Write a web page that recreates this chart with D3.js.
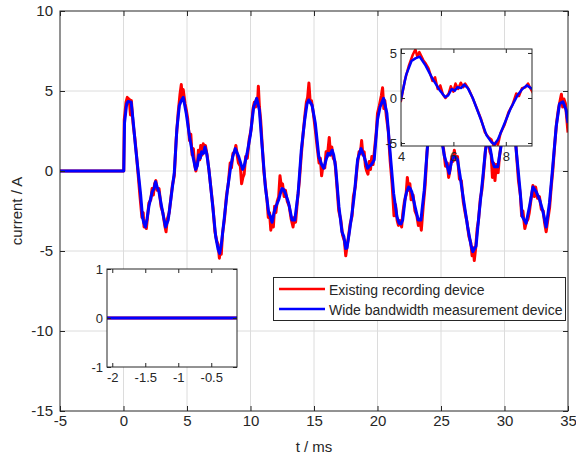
<!DOCTYPE html>
<html>
<head>
<meta charset="utf-8">
<script src="https://cdn.jsdelivr.net/npm/d3@7"></script>
<style>
body { margin: 0; background: #fff; }
text { font-family: "Liberation Sans", Arial, sans-serif; fill: #262626; }
</style>
</head>
<body>
<svg id="chart" width="576" height="459"></svg>
<script>
// [t in ms, current in A]
const blueSamples = [[-5,0],[0,0],[0.02,0],[0.08,3.0],[0.25,4.2],[0.37,4.35],[0.6,4.3],[0.75,3.2],[0.95,1.5],[1.15,0.0],[1.34,-1.4],[1.5,-2.9],[1.6,-3.25],[1.73,-3.5],[1.85,-3.0],[2.0,-2.2],[2.26,-1.3],[2.4,-1.1],[2.52,-0.67],[2.65,-1.0],[2.79,-1.3],[3.05,-2.44],[3.31,-3.5],[3.52,-3.06],[3.85,-1.0],[4.0,-0.1],[4.2,2.6],[4.4,4.1],[4.55,4.4],[4.71,4.6],[4.94,3.6],[5.2,2.15],[5.47,0.9],[5.68,0.1],[5.8,0.3],[5.94,1.0],[6.05,0.8],[6.15,1.2],[6.3,1.1],[6.41,1.5],[6.55,1.1],[6.73,0.06],[7.0,-2.0],[7.26,-4.1],[7.45,-4.9],[7.57,-5.15],[7.7,-4.6],[7.83,-3.7],[8.18,-1.2],[8.44,0.27],[8.6,0.9],[8.8,1.4],[9.07,0.9],[9.38,0.1],[9.5,0.3],[9.73,1.1],[9.99,2.25],[10.25,4.0],[10.49,4.54],[10.7,3.8],[10.9,1.7],[11.17,-1.0],[11.44,-2.65],[11.55,-2.8],[11.7,-3.2],[11.85,-2.6],[11.96,-2.3],[12.22,-1.8],[12.35,-1.4],[12.48,-1.1],[12.6,-1.15],[12.75,-1.4],[13.0,-2.0],[13.27,-3.06],[13.49,-3.06],[13.75,-1.4],[14.0,1.3],[14.27,3.2],[14.45,4.2],[14.59,4.44],[14.85,4.1],[15.1,3.0],[15.38,0.9],[15.6,0.4],[15.77,0.17],[15.95,0.7],[16.1,1.1],[16.25,1.0],[16.43,1.3],[16.55,1.0],[16.7,0.27],[16.96,-2.2],[17.2,-3.8],[17.35,-4.1],[17.5,-4.84],[17.6,-4.8],[17.77,-3.9],[18.0,-2.6],[18.16,-1.6],[18.43,0.7],[18.7,1.4],[18.95,0.9],[19.1,0.5],[19.22,0.17],[19.35,0.3],[19.48,0.37],[19.6,0.5],[19.74,0.7],[20.0,3.2],[20.2,4.0],[20.48,4.54],[20.74,3.6],[21.0,1.1],[21.27,-1.4],[21.53,-2.85],[21.7,-3.27],[21.85,-3.3],[21.98,-3.06],[22.2,-1.6],[22.3,-1.3],[22.45,-1.0],[22.58,-1.1],[22.7,-1.3],[22.95,-2.2],[23.2,-3.06],[23.42,-3.06],[23.68,-1.2],[23.95,1.7],[24.2,3.5],[24.45,4.4],[24.7,4.1],[24.95,2.5],[25.25,1.0],[25.5,0.27],[25.65,-0.15],[25.8,0.5],[25.95,0.9],[26.1,0.9],[26.3,0.7],[26.5,-0.3],[26.7,-1.4],[27.1,-3.5],[27.35,-4.6],[27.5,-5.04],[27.6,-4.9],[27.76,-4.7],[28.0,-2.65],[28.3,-0.35],[28.5,1.3],[28.7,2.0],[28.9,1.3],[29.05,0.6],[29.2,0.27],[29.47,0.27],[29.7,1.4],[29.95,3.0],[30.2,4.3],[30.45,4.6],[30.65,3.5],[30.9,1.5],[31.2,-1.0],[31.4,-2.85],[31.7,-3.27],[31.97,-2.2],[32.24,-1.0],[32.5,-1.3],[32.77,-1.8],[33.0,-2.44],[33.28,-3.5],[33.54,-2.0],[33.8,0.27],[34.07,2.77],[34.33,4.2],[34.6,4.33],[34.86,3.8],[35.0,3.0]]

const redSamples = [[-5,0],[0,0],[0.02,0],[0.06,3.2],[0.2,4.3],[0.3,4.6],[0.4,4.2],[0.45,4.5],[0.55,3.5],[0.62,4.4],[0.75,3.0],[0.9,2.0],[1.0,1.2],[1.15,-0.2],[1.3,-1.6],[1.45,-2.9],[1.55,-2.6],[1.62,-3.5],[1.72,-3.2],[1.8,-3.6],[1.9,-2.8],[2.0,-2.0],[2.15,-1.8],[2.25,-1.1],[2.35,-1.5],[2.45,-0.8],[2.55,-0.6],[2.65,-1.2],[2.8,-1.1],[2.95,-2.2],[3.1,-2.6],[3.25,-3.4],[3.35,-3.8],[3.45,-3.0],[3.6,-2.6],[3.85,-0.9],[4.0,-0.3],[4.15,2.0],[4.3,3.6],[4.45,4.8],[4.55,5.4],[4.62,4.6],[4.7,5.1],[4.85,4.2],[4.95,3.8],[5.05,3.3],[5.2,1.9],[5.3,2.3],[5.4,1.0],[5.5,1.4],[5.6,0.4],[5.7,0.0],[5.82,0.5],[5.9,1.3],[6.0,0.7],[6.08,1.6],[6.18,1.0],[6.28,1.7],[6.38,1.2],[6.45,1.6],[6.6,0.9],[6.75,-0.1],[6.9,-1.2],[7.05,-2.3],[7.2,-3.8],[7.35,-4.4],[7.45,-4.6],[7.55,-5.45],[7.62,-4.9],[7.7,-5.2],[7.8,-3.9],[7.95,-3.0],[8.1,-1.6],[8.25,-0.8],[8.4,0.5],[8.5,0.2],[8.62,1.1],[8.75,1.2],[8.85,1.6],[8.95,1.0],[9.05,0.5],[9.2,0.3],[9.3,-0.8],[9.4,-0.4],[9.5,-0.2],[9.62,0.9],[9.75,0.8],[9.9,2.0],[10.05,2.6],[10.2,3.9],[10.3,4.3],[10.4,4.0],[10.47,4.5],[10.55,4.2],[10.62,5.3],[10.7,4.0],[10.8,3.2],[10.9,1.9],[11.05,0.0],[11.2,-1.1],[11.3,-1.8],[11.4,-2.9],[11.5,-2.6],[11.6,-3.7],[11.7,-3.0],[11.8,-3.5],[11.9,-2.2],[12.0,-2.6],[12.1,-1.9],[12.22,-1.6],[12.32,-0.3],[12.42,-0.9],[12.52,-0.8],[12.65,-1.6],[12.75,-1.2],[12.9,-1.9],[13.05,-2.2],[13.2,-3.0],[13.35,-3.5],[13.45,-2.9],[13.55,-3.2],[13.7,-1.8],[13.85,-0.6],[14.0,1.0],[14.15,2.4],[14.3,3.6],[14.4,4.3],[14.5,4.6],[14.6,5.5],[14.7,4.3],[14.8,4.4],[14.95,3.6],[15.1,2.6],[15.25,1.5],[15.4,0.5],[15.5,0.8],[15.6,-0.3],[15.7,0.3],[15.85,0.2],[15.95,1.2],[16.05,0.9],[16.2,2.1],[16.3,1.0],[16.4,1.5],[16.52,0.8],[16.65,0.6],[16.8,-0.9],[16.95,-2.5],[17.1,-3.0],[17.25,-4.0],[17.4,-4.4],[17.5,-5.3],[17.6,-4.7],[17.7,-4.2],[17.85,-3.3],[18.0,-2.8],[18.1,-1.6],[18.25,-1.0],[18.4,0.3],[18.55,1.2],[18.65,1.1],[18.75,1.9],[18.85,1.0],[18.95,1.2],[19.05,0.3],[19.15,0.0],[19.25,-0.2],[19.35,0.6],[19.45,0.1],[19.55,0.9],[19.65,0.4],[19.8,1.6],[19.9,2.4],[20.0,3.6],[20.15,4.1],[20.3,4.7],[20.4,5.2],[20.5,3.9],[20.58,4.4],[20.7,3.4],[20.85,2.5],[21.0,0.6],[21.15,-0.8],[21.3,-2.8],[21.42,-2.1],[21.55,-3.1],[21.65,-3.4],[21.78,-3.1],[21.9,-3.5],[22.0,-2.6],[22.12,-1.9],[22.25,-1.5],[22.35,-0.4],[22.45,-1.2],[22.55,-0.8],[22.65,-1.8],[22.8,-1.5],[22.95,-2.5],[23.1,-2.8],[23.22,-3.4],[23.35,-3.0],[23.45,-3.7],[23.6,-2.2],[23.75,-0.9],[23.9,1.2],[24.05,2.4],[24.2,3.7],[24.4,4.7],[24.5,4.2],[24.6,4.6],[24.75,3.9],[24.9,2.9],[25.05,1.8],[25.2,1.4],[25.35,0.3],[25.5,0.5],[25.6,-0.4],[25.72,0.1],[25.85,0.9],[25.95,0.6],[26.05,1.3],[26.15,0.7],[26.3,0.9],[26.45,-0.5],[26.6,-0.6],[26.75,-1.9],[26.9,-2.6],[27.05,-3.2],[27.2,-4.1],[27.35,-4.5],[27.45,-5.3],[27.55,-4.8],[27.62,-5.6],[27.72,-4.9],[27.85,-3.6],[27.95,-3.1],[28.1,-1.7],[28.22,-1.2],[28.32,-0.4],[28.45,0.8],[28.55,1.7],[28.7,2.2],[28.85,1.2],[28.95,1.0],[29.05,-0.4],[29.15,0.5],[29.25,-0.6],[29.35,0.4],[29.5,-0.1],[29.6,0.9],[29.72,1.6],[29.85,2.5],[30.0,3.4],[30.15,4.0],[30.3,4.8],[30.45,4.4],[30.55,5.0],[30.7,3.2],[30.85,2.2],[30.95,1.0],[31.1,-0.6],[31.25,-1.5],[31.35,-2.8],[31.45,-2.5],[31.6,-3.6],[31.72,-3.2],[31.85,-3.0],[31.95,-2.6],[32.1,-1.7],[32.24,-0.9],[32.35,-1.6],[32.45,-1.0],[32.6,-1.7],[32.75,-1.6],[32.9,-2.4],[33.05,-2.5],[33.15,-3.2],[33.28,-3.8],[33.4,-3.1],[33.55,-2.3],[33.68,-1.0],[33.8,0.0],[33.95,1.6],[34.1,3.0],[34.25,3.9],[34.38,4.4],[34.48,4.8],[34.58,4.0],[34.68,4.5],[34.8,4.2],[34.9,3.3],[35.0,2.4]]

const seriesNames = ["Existing recording device", "Wide bandwidth measurement device"]
const seriesColors = ["#ff0000", "#0000ff"]

const mainXTicks = [-5, 0, 5, 10, 15, 20, 25, 30, 35]
const mainYTicks = [-15, -10, -5, 0, 5, 10]
const zoomXTicks = [4, 6, 8]
const zoomYTicks = [-5, 0, 5]
const preXTicks = [-2, -1.5, -1, -0.5]
const preYTicks = [-1, 0, 1]

const svg = d3.select("#chart")
const ink = "#262626"
const plain = d => String(d)   // keep ascii hyphen for negatives

const x = d3.scaleLinear().domain([-5, 35]).range([60, 568])
const y = d3.scaleLinear().domain([-15, 10]).range([411, 11])

// grid
const grid = svg.append("g").attr("stroke", "#dcdcdc").attr("stroke-width", 1)
grid.selectAll(".gx").data(mainXTicks.slice(1, -1)).enter().append("line")
    .attr("x1", d => x(d)).attr("x2", d => x(d)).attr("y1", y(-15)).attr("y2", y(10))
grid.selectAll(".gy").data(mainYTicks.slice(1, -1)).enter().append("line")
    .attr("x1", x(-5)).attr("x2", x(35)).attr("y1", d => y(d)).attr("y2", d => y(d))

svg.append("defs").append("clipPath").attr("id", "mainclip")
    .append("rect").attr("x", 60).attr("y", 11).attr("width", 508).attr("height", 400)

function drawLines(g, sx, sy, width) {
    const line = d3.line().x(d => sx(d[0])).y(d => sy(d[1]))
    g.append("path").datum(redSamples).attr("d", line)
        .attr("fill", "none").attr("stroke", seriesColors[0]).attr("stroke-width", width)
        .attr("stroke-linejoin", "round")
    g.append("path").datum(blueSamples).attr("d", line)
        .attr("fill", "none").attr("stroke", seriesColors[1]).attr("stroke-width", width)
        .attr("stroke-linejoin", "round")
}

drawLines(svg.append("g").attr("clip-path", "url(#mainclip)"), x, y, 3)

// axes with inward ticks
function styleAxis(g, fontSize) {
    g.select(".domain").remove()
    g.selectAll("line").attr("stroke", ink)
    g.selectAll("text").attr("font-size", fontSize).attr("fill", ink)
        .attr("font-family", "'Liberation Sans', Arial, sans-serif")
}

function boxAxes(sx, sy, xt, yt, tick, fs, padX, padY) {
    const [x0, x1] = sx.range(), [y0, y1] = sy.range()
    svg.append("g").attr("transform", `translate(0,${y0})`)
        .call(d3.axisBottom(sx).tickValues(xt).tickSize(-tick).tickPadding(padX).tickFormat(plain))
        .call(g => styleAxis(g, fs))
    svg.append("g").attr("transform", `translate(0,${y1})`)
        .call(d3.axisTop(sx).tickValues(xt).tickSize(-tick).tickFormat(""))
        .call(g => styleAxis(g, fs))
    svg.append("g").attr("transform", `translate(${x0},0)`)
        .call(d3.axisLeft(sy).tickValues(yt).tickSize(-tick).tickPadding(padY).tickFormat(plain))
        .call(g => styleAxis(g, fs))
    svg.append("g").attr("transform", `translate(${x1},0)`)
        .call(d3.axisRight(sy).tickValues(yt).tickSize(-tick).tickFormat(""))
        .call(g => styleAxis(g, fs))
    svg.append("rect").attr("x", x0).attr("y", y1).attr("width", x1 - x0).attr("height", y0 - y1)
        .attr("fill", "none").attr("stroke", ink).attr("stroke-width", 1)
}

boxAxes(x, y, mainXTicks, mainYTicks, 5, 15, 4, 7)

svg.append("text").attr("x", 314).attr("y", 452).attr("text-anchor", "middle")
    .attr("font-size", 15).text("t / ms")
svg.append("text").attr("transform", "translate(22,211) rotate(-90)").attr("text-anchor", "middle")
    .attr("font-size", 15).text("current / A")

// legend
const legend = svg.append("g")
legend.append("rect").attr("x", 273.5).attr("y", 277.5).attr("width", 292).attr("height", 43)
    .attr("fill", "#fff").attr("stroke", ink).attr("stroke-width", 1)
seriesNames.forEach((name, i) => {
    const ly = 289 + i * 20
    legend.append("line").attr("x1", 279).attr("x2", 325).attr("y1", ly).attr("y2", ly)
        .attr("stroke", seriesColors[i]).attr("stroke-width", 2.5)
    legend.append("text").attr("x", 329).attr("y", ly + 5.5).attr("font-size", 14).text(name)
})

// inset: zoom on 4..9 ms
const zx = d3.scaleLinear().domain([4, 9]).range([401, 532])
const zy = d3.scaleLinear().domain([-5.33, 5.44]).range([146, 49])
svg.append("rect").attr("x", 401).attr("y", 49).attr("width", 131).attr("height", 97).attr("fill", "#fff")
svg.select("defs").append("clipPath").attr("id", "zoomclip")
    .append("rect").attr("x", 401).attr("y", 49).attr("width", 131).attr("height", 97)
drawLines(svg.append("g").attr("clip-path", "url(#zoomclip)"), zx, zy, 2.5)
boxAxes(zx, zy, zoomXTicks, zoomYTicks, 4, 13, 6, 4)

// inset: before trigger
const px = d3.scaleLinear().domain([-2.08, -0.11]).range([107, 237])
const py = d3.scaleLinear().domain([-1, 1]).range([367, 269])
svg.append("rect").attr("x", 107).attr("y", 269).attr("width", 130).attr("height", 98).attr("fill", "#fff")
svg.select("defs").append("clipPath").attr("id", "preclip")
    .append("rect").attr("x", 107).attr("y", 269).attr("width", 130).attr("height", 98)
drawLines(svg.append("g").attr("clip-path", "url(#preclip)"), px, py, 3)
boxAxes(px, py, preXTicks, preYTicks, 4, 13, 6, 4)
</script>
</body>
</html>
